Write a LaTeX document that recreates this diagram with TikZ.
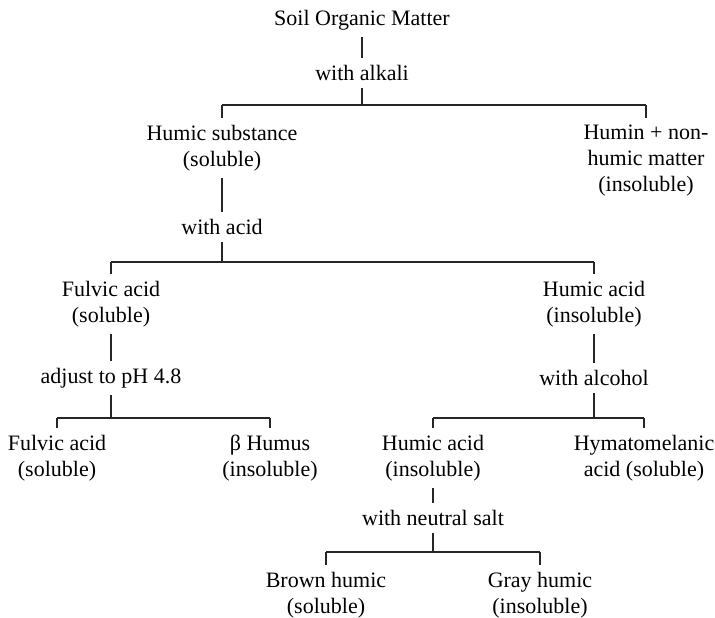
\documentclass[tikz,border=0pt]{standalone}
\usepackage{fontspec}
\setmainfont{Liberation Serif}
\begin{document}
\begin{tikzpicture}[x=1pt,y=-1pt,
  lbl/.style={font=\fontsize{22}{26}\selectfont, align=center, inner xsep=0pt, inner ysep=7pt},
  conn/.style={line width=1.1pt, draw=black!85}]
\useasboundingbox (0,0) rectangle (715,618);
\node[lbl] (som) at (362,20) {Soil Organic Matter};
\node[lbl] (alk) at (362,73) {with alkali};
\coordinate (b1) at (362,105);
\node[lbl] (hs) at (222,148) {Humic substance\\(soluble)};
\node[lbl] (hm) at (646,161) {Humin + non-\\humic matter\\(insoluble)};
\node[lbl] (acid) at (222,227) {with acid};
\coordinate (b2) at (222,262);
\node[lbl] (fa) at (111,304) {Fulvic acid\\(soluble)};
\node[lbl] (ha) at (594,304) {Humic acid\\(insoluble)};
\node[lbl] (ph) at (111,378) {adjust to pH 4.8};
\node[lbl] (alc) at (594,378) {with alcohol};
\coordinate (b3) at (111,418);
\coordinate (b4) at (594,418);
\node[lbl] (fa2) at (57,458) {Fulvic acid\\(soluble)};
\node[lbl] (bh) at (270,458) {β Humus\\(insoluble)};
\node[lbl] (ha2) at (433,458) {Humic acid\\(insoluble)};
\node[lbl] (hy) at (644,458) {Hymatomelanic\\acid (soluble)};
\node[lbl] (ns) at (433,518) {with neutral salt};
\coordinate (b5) at (433,552);
\node[lbl] (br) at (326,595) {Brown humic\\(soluble)};
\node[lbl] (gr) at (540,595) {Gray humic\\(insoluble)};
% connectors
\draw[conn] (som) -- (alk);
\draw[conn] (alk) -- (b1);
\draw[conn] (hs |- b1) -- (hm |- b1);
\draw[conn] (hs |- b1) -- (hs);
\draw[conn] (hm |- b1) -- (hm);
\draw[conn] (hs) -- (acid);
\draw[conn] (acid) -- (b2);
\draw[conn] (fa |- b2) -- (ha |- b2);
\draw[conn] (fa |- b2) -- (fa);
\draw[conn] (ha |- b2) -- (ha);
\draw[conn] (fa) -- (ph);
\draw[conn] (ha) -- (alc);
\draw[conn] (ph) -- (b3);
\draw[conn] (alc) -- (b4);
\draw[conn] (fa2 |- b3) -- (bh |- b3);
\draw[conn] (fa2 |- b3) -- (fa2);
\draw[conn] (bh |- b3) -- (bh);
\draw[conn] (ha2 |- b4) -- (hy |- b4);
\draw[conn] (ha2 |- b4) -- (ha2);
\draw[conn] (hy |- b4) -- (hy);
\draw[conn] (ha2) -- (ns);
\draw[conn] (ns) -- (b5);
\draw[conn] (br |- b5) -- (gr |- b5);
\draw[conn] (br |- b5) -- (br);
\draw[conn] (gr |- b5) -- (gr);
\end{tikzpicture}
\end{document}
